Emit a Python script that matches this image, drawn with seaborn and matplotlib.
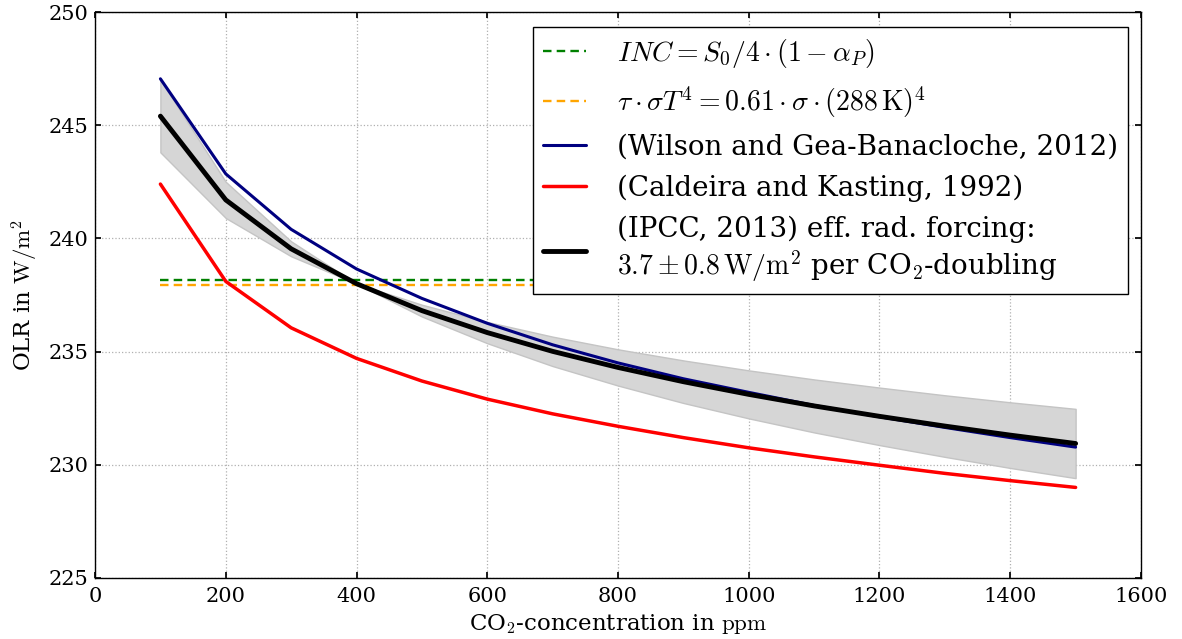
import numpy as np
import pandas as pd
import matplotlib
matplotlib.use("Agg")
import matplotlib.pyplot as plt
import seaborn as sns

# CO2 concentrations (ppm)
ppm = [100, 200, 300, 400, 500, 600, 700, 800, 900, 1000, 1100, 1200, 1300, 1400, 1500]

# Outgoing longwave radiation (W/m^2)
olr_wilson = [247.05, 242.85, 240.40, 238.65, 237.35, 236.25, 235.30, 234.50,
              233.80, 233.20, 232.62, 232.12, 231.65, 231.20, 230.78]
olr_caldeira = [242.40, 238.10, 236.05, 234.70, 233.70, 232.90, 232.25, 231.70,
                231.20, 230.75, 230.35, 229.98, 229.62, 229.30, 229.00]
olr_ipcc = [245.40, 241.70, 239.54, 238.00, 236.81, 235.84, 235.01, 234.30,
            233.67, 233.11, 232.60, 232.14, 231.71, 231.31, 230.94]
ipcc_low = [243.80, 240.90, 239.21, 238.00, 236.55, 235.37, 234.36, 233.50,
            232.73, 232.05, 231.43, 230.87, 230.35, 229.86, 229.41]
ipcc_high = [247.00, 242.50, 239.87, 238.00, 237.07, 236.31, 235.66, 235.10,
             234.61, 234.17, 233.77, 233.41, 233.07, 232.76, 232.47]

# Reference levels
inc_range = [100, 1500]
inc_level = [238.18, 238.18]
grey_body_level = [237.95, 237.95]

sns.set_theme(style="whitegrid")
plt.rcParams.update({
    "font.family": ["DejaVu Serif"],
    "mathtext.fontset": "cm",
    "text.color": "black",
    "axes.edgecolor": "black",
    "axes.linewidth": 1.0,
    "grid.color": "#b0b0b0",
    "grid.linestyle": ":",
    "grid.linewidth": 0.9,
    "xtick.direction": "in",
    "ytick.direction": "in",
    "xtick.top": True,
    "ytick.right": True,
    "xtick.bottom": True,
    "ytick.left": True,
    "xtick.major.size": 4,
    "ytick.major.size": 4,
    "xtick.color": "black",
    "ytick.color": "black",
    "axes.labelcolor": "black",
})

fig = plt.figure(figsize=(11.82, 6.39), dpi=100)
ax = fig.add_axes([0.0804, 0.0955, 0.8849, 0.8857])

ax.fill_between(ppm, ipcc_low, ipcc_high, facecolor="#d6d6d6",
                edgecolor="#c4c4c4", linewidth=1.0, zorder=1)

sns.lineplot(x=inc_range, y=inc_level, ax=ax, color="green", linewidth=1.7,
             dashes=False, label=r"$INC = S_0/4\cdot(1-\alpha_P)$", zorder=2)
sns.lineplot(x=inc_range, y=grey_body_level, ax=ax, color="orange", linewidth=1.7,
             dashes=False,
             label=r"$\tau\cdot\sigma T^4 = 0.61\cdot\sigma\cdot(288\,\mathrm{K})^4$",
             zorder=2)
for ln in ax.get_lines()[:2]:
    ln.set_dashes((3.6, 2.2))
sns.lineplot(x=ppm, y=olr_wilson, ax=ax, color="navy", linewidth=2.2,
             label="(Wilson and Gea-Banacloche, 2012)", zorder=3)
sns.lineplot(x=ppm, y=olr_caldeira, ax=ax, color="red", linewidth=2.5,
             label="(Caldeira and Kasting, 1992)", zorder=3)
sns.lineplot(x=ppm, y=olr_ipcc, ax=ax, color="black", linewidth=3.5,
             label="(IPCC, 2013) eff. rad. forcing:\n"
                   r"$3.7\pm0.8\,\mathrm{W/m^2}$ per CO$_2$-doubling", zorder=4)

ax.set_xlim(0, 1600)
ax.set_ylim(225, 250)
ax.set_xticks(np.arange(0, 1601, 200))
ax.set_yticks(np.arange(225, 251, 5))
ax.tick_params(axis="x", labelsize=15, pad=6.5)
ax.tick_params(axis="y", labelsize=15, pad=5)
ax.set_xlabel(r"CO$_2$-concentration in $\mathrm{ppm}$", fontsize=16.5, labelpad=4)
ax.set_ylabel(r"OLR in $\mathrm{W/m^2}$", fontsize=16.5, labelpad=6)
ax.grid(True)
for s in ax.spines.values():
    s.set_color("black")

leg = ax.legend(loc="upper right", fontsize=20, frameon=True, fancybox=False,
                edgecolor="black", framealpha=1, handlelength=1.55,
                handletextpad=1.1, borderpad=0.36, labelspacing=0.5,
                borderaxespad=0, bbox_to_anchor=(1128 / 1182, 1 - 27 / 639),
                bbox_transform=fig.transFigure)
leg.get_frame().set_linewidth(1.0)
for t in leg.get_texts():
    t.set_color("black")

fig.savefig("out.png", dpi=100)
